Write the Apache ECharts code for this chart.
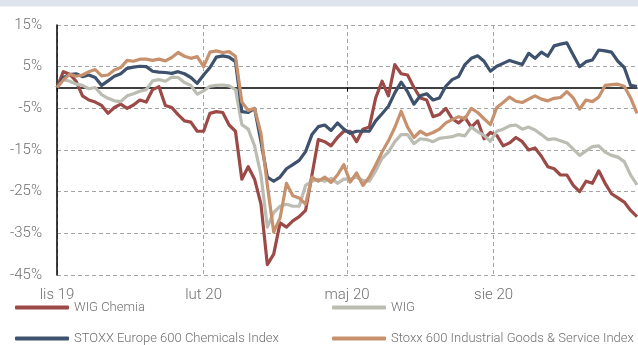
<!DOCTYPE html>
<html>
<head>
<meta charset="utf-8">
<script src="https://cdn.jsdelivr.net/npm/echarts@6/dist/echarts.min.js"></script>
<style>
html,body{margin:0;padding:0;background:#fff;}
#chart{width:638px;height:345px;}
</style>
</head>
<body>
<div id="chart"></div>
<script>
var dates = ['2019-11-01','2019-11-05','2019-11-09','2019-11-13','2019-11-17','2019-11-21','2019-11-25','2019-11-29','2019-12-03','2019-12-07',
'2019-12-11','2019-12-15','2019-12-19','2019-12-23','2019-12-27','2019-12-31','2020-01-04','2020-01-08','2020-01-12','2020-01-16',
'2020-01-20','2020-01-24','2020-01-28','2020-02-01','2020-02-05','2020-02-09','2020-02-13','2020-02-17','2020-02-21','2020-02-25',
'2020-02-29','2020-03-04','2020-03-08','2020-03-12','2020-03-16','2020-03-20','2020-03-24','2020-03-28','2020-04-01','2020-04-05',
'2020-04-09','2020-04-13','2020-04-17','2020-04-21','2020-04-25','2020-04-29','2020-05-03','2020-05-07','2020-05-11','2020-05-15',
'2020-05-19','2020-05-23','2020-05-27','2020-05-31','2020-06-04','2020-06-08','2020-06-12','2020-06-16','2020-06-20','2020-06-24',
'2020-06-28','2020-07-02','2020-07-06','2020-07-10','2020-07-14','2020-07-18','2020-07-22','2020-07-26','2020-07-30','2020-08-03',
'2020-08-07','2020-08-11','2020-08-15','2020-08-19','2020-08-23','2020-08-27','2020-08-31','2020-09-04','2020-09-08','2020-09-12',
'2020-09-16','2020-09-20','2020-09-24','2020-09-28','2020-10-02','2020-10-06','2020-10-10','2020-10-14','2020-10-18','2020-10-22',
'2020-10-26','2020-10-30'];

var wigChemia = [0, 3.8, 3.2, 1.5, -2.0, -3.0, -3.5, -4.3, -6.2, -4.8,
-4.0, -5.0, -4.2, -3.0, -3.5, -0.5, 0.2, -4.3, -4.8, -6.5,
-8.0, -8.3, -10.5, -10.5, -6.2, -5.8, -6.0, -9.0, -10.5, -22.0,
-19.0, -22.0, -28.0, -42.5, -40.0, -32.5, -33.5, -32.0, -31.0, -29.5,
-21.0, -12.5, -13.0, -14.0, -12.0, -10.5, -10.5, -13.0, -10.0, -9.5,
-2.5, 1.5, -2.0, 5.5, 3.3, 3.0, 0.0, -2.5, -3.0, -7.0,
-6.5, -5.0, -7.5, -8.5, -7.2, -9.5, -8.0, -12.3, -10.8, -11.5,
-14.0, -13.3, -12.0, -13.0, -15.0, -14.5, -16.5, -19.0, -19.5, -21.0,
-21.0, -23.5, -25.0, -22.5, -23.0, -20.0, -23.0, -25.5, -26.5, -27.5,
-29.5, -31.0];

var wig = [0, 1.9, 1.5, 0.8, 0.5, -0.3, 0.0, -1.7, -2.6, -3.2,
-3.4, -2.0, -1.5, -0.9, -0.5, 1.6, 1.9, 1.5, 2.5, 2.4,
1.2, 0.5, -1.6, -0.8, 0.3, 0.5, 0.6, 0.4, -0.5, -8.9,
-10.0, -14.0, -21.0, -33.5, -30.0, -28.5, -28.0, -28.5, -28.5, -23.5,
-22.5, -22.0, -22.5, -21.8, -23.0, -22.0, -22.0, -21.5, -22.3, -22.5,
-20.0, -17.0, -15.5, -13.0, -11.3, -11.3, -13.5, -12.3, -12.5, -13.0,
-12.2, -12.0, -11.8, -11.3, -11.6, -9.5, -10.6, -11.5, -12.9, -10.5,
-10.0, -9.2, -9.0, -10.0, -9.5, -10.2, -11.3, -12.5, -12.3, -12.8,
-13.3, -14.8, -16.3, -15.2, -14.2, -14.0, -15.5, -16.3, -16.7, -17.8,
-21.0, -23.4];

var stoxxChem = [0, 2.4, 3.1, 3.3, 2.6, 3.0, 2.4, 0.5, 1.6, 2.7,
3.3, 4.6, 4.9, 5.1, 5.0, 3.9, 3.7, 3.6, 3.4, 3.8,
3.3, 2.4, 1.0, 3.0, 4.8, 7.3, 7.6, 7.3, 6.2, -5.8,
-6.0, -5.0, -13.0, -21.5, -22.5, -21.5, -19.5, -18.5, -17.5, -15.4,
-11.3, -9.4, -9.0, -10.3, -8.5, -10.0, -11.0, -10.5, -10.5, -10.5,
-8.0, -6.3, -4.5, -1.3, 1.3, -1.0, -4.0, -2.0, -1.5, -3.0,
-2.5, 0.3, 1.9, 2.6, 5.5, 7.0, 7.6, 6.3, 3.9, 5.1,
5.8, 6.5, 6.0, 5.5, 8.2, 7.0, 8.5, 7.5, 10.0, 10.4,
10.7, 7.8, 5.0, 6.2, 6.6, 9.0, 8.8, 8.5, 6.3, 4.8,
0.5, 0.2];

var stoxxInd = [0, 1.8, 3.2, 2.7, 3.0, 3.8, 4.3, 2.8, 3.0, 4.2,
4.8, 6.5, 6.3, 6.8, 6.8, 6.5, 6.8, 6.4, 7.2, 8.4,
7.5, 7.0, 7.4, 5.0, 8.5, 8.8, 8.4, 8.6, 7.5, -3.5,
-5.5, -5.0, -11.0, -23.4, -34.7, -31.3, -23.0, -26.0, -26.5, -28.0,
-21.5, -22.5, -21.5, -22.8, -21.0, -18.5, -22.7, -20.5, -23.5, -21.5,
-18.6, -15.5, -12.8, -9.6, -5.7, -9.5, -12.0, -10.5, -11.4, -10.8,
-10.0, -8.5, -7.7, -7.0, -7.5, -5.0, -6.0, -7.5, -8.9, -4.8,
-3.6, -2.3, -3.3, -3.6, -2.8, -2.0, -2.8, -3.2, -2.6, -2.4,
-1.0, -2.5, -5.2, -3.0, -3.4, -2.3, 0.5, 0.7, 0.8, 0.3,
-2.5, -6.2];

var seriesNames = ['WIG Chemia', 'WIG', 'STOXX Europe 600 Chemicals Index', 'Stoxx 600 Industrial Goods & Service Index'];
var seriesColors = ['#9c4a47', '#bbbdb2', '#3f526d', '#c8916d'];
var tickDates = ['2019-11-01', '2020-02-01', '2020-05-01', '2020-08-01'];
var tickLabels = ['lis 19', 'lut 20', 'maj 20', 'sie 20'];
var yTicks = { min: -45, max: 15, interval: 10 };

function toTime(d) { return echarts.number.parseDate(d).getTime(); }
var tickTimes = tickDates.map(toTime);
function labelFor(v) {
  var best = 0, bd = Infinity;
  for (var i = 0; i < tickTimes.length; i++) {
    var dd = Math.abs(tickTimes[i] - v);
    if (dd < bd) { bd = dd; best = i; }
  }
  return tickLabels[best];
}

var allValues = [wigChemia, wig, stoxxChem, stoxxInd];
var FONT = 'Roboto';
var xMin = toTime(dates[0]);
var xMax = toTime(dates[dates.length - 1]);

var chart = echarts.init(document.getElementById('chart'), null, { renderer: 'canvas' });

var series = allValues.map(function (vals, k) {
  return {
    name: seriesNames[k],
    type: 'line',
    xAxisIndex: 0,
    yAxisIndex: 0,
    showSymbol: false,
    symbol: 'none',
    smooth: false,
    color: seriesColors[k],
    itemStyle: { color: seriesColors[k] },
    lineStyle: { width: 3.2, color: seriesColors[k], join: 'round' },
    emphasis: { disabled: true },
    data: dates.map(function (d, i) { return [toTime(d), vals[i]]; })
  };
});

function legendAt(name, left, top) {
  return {
    data: [name],
    left: left,
    top: top,
    padding: 0,
    icon: 'roundRect',
    itemWidth: 54,
    itemHeight: 4,
    itemGap: 0,
    selectedMode: false,
    textStyle: { color: '#707070', fontSize: 13, fontFamily: FONT, fontWeight: 300 }
  };
}

chart.setOption({
  animation: false,
  backgroundColor: '#ffffff',
  graphic: [{
    type: 'rect',
    shape: { x: 0, y: 0, width: 638, height: 6.5 },
    style: { fill: '#dde4eb' },
    silent: true
  }],
  grid: { left: 57, right: 1, top: 25, bottom: 70, containLabel: false, outerBoundsMode: 'none' },
  legend: [
    legendAt(seriesNames[0], 15, 301),
    legendAt(seriesNames[1], 332, 301),
    legendAt(seriesNames[2], 15, 332),
    legendAt(seriesNames[3], 332, 332)
  ],
  xAxis: [{
    type: 'value',
    position: 'bottom',
    min: xMin,
    max: xMax,
    scale: true,
    axisLine: { show: false, onZero: false },
    axisTick: { show: false, customValues: tickTimes },
    axisLabel: {
      customValues: tickTimes,
      formatter: function (v) { return labelFor(v); },
      color: '#707070', fontSize: 15, fontFamily: FONT, fontWeight: 300, margin: 13,
      hideOverlap: false, showMinLabel: true, showMaxLabel: true
    },
    splitLine: { show: true, lineStyle: { color: '#a5a5a5', width: 1, type: [4, 3] } }
  }, {
    type: 'value',
    position: 'bottom',
    min: xMin,
    max: xMax,
    scale: true,
    axisLine: { show: true, onZero: true, lineStyle: { color: '#000', width: 1.5 } },
    axisTick: { show: true, customValues: tickTimes, length: 4, lineStyle: { color: '#000', width: 1 } },
    axisLabel: { show: false },
    splitLine: { show: false }
  }],
  yAxis: {
    type: 'value',
    min: yTicks.min,
    max: yTicks.max,
    interval: yTicks.interval,
    axisLine: { show: true, onZero: false, lineStyle: { color: '#000', width: 1.5 } },
    axisTick: { show: false },
    axisLabel: { formatter: '{value}%', color: '#707070', fontSize: 15, fontFamily: FONT, fontWeight: 300, margin: 15 },
    splitLine: { show: true, lineStyle: { color: '#a5a5a5', width: 1, type: [4, 3] } }
  },
  series: series
});
</script>
</body>
</html>
